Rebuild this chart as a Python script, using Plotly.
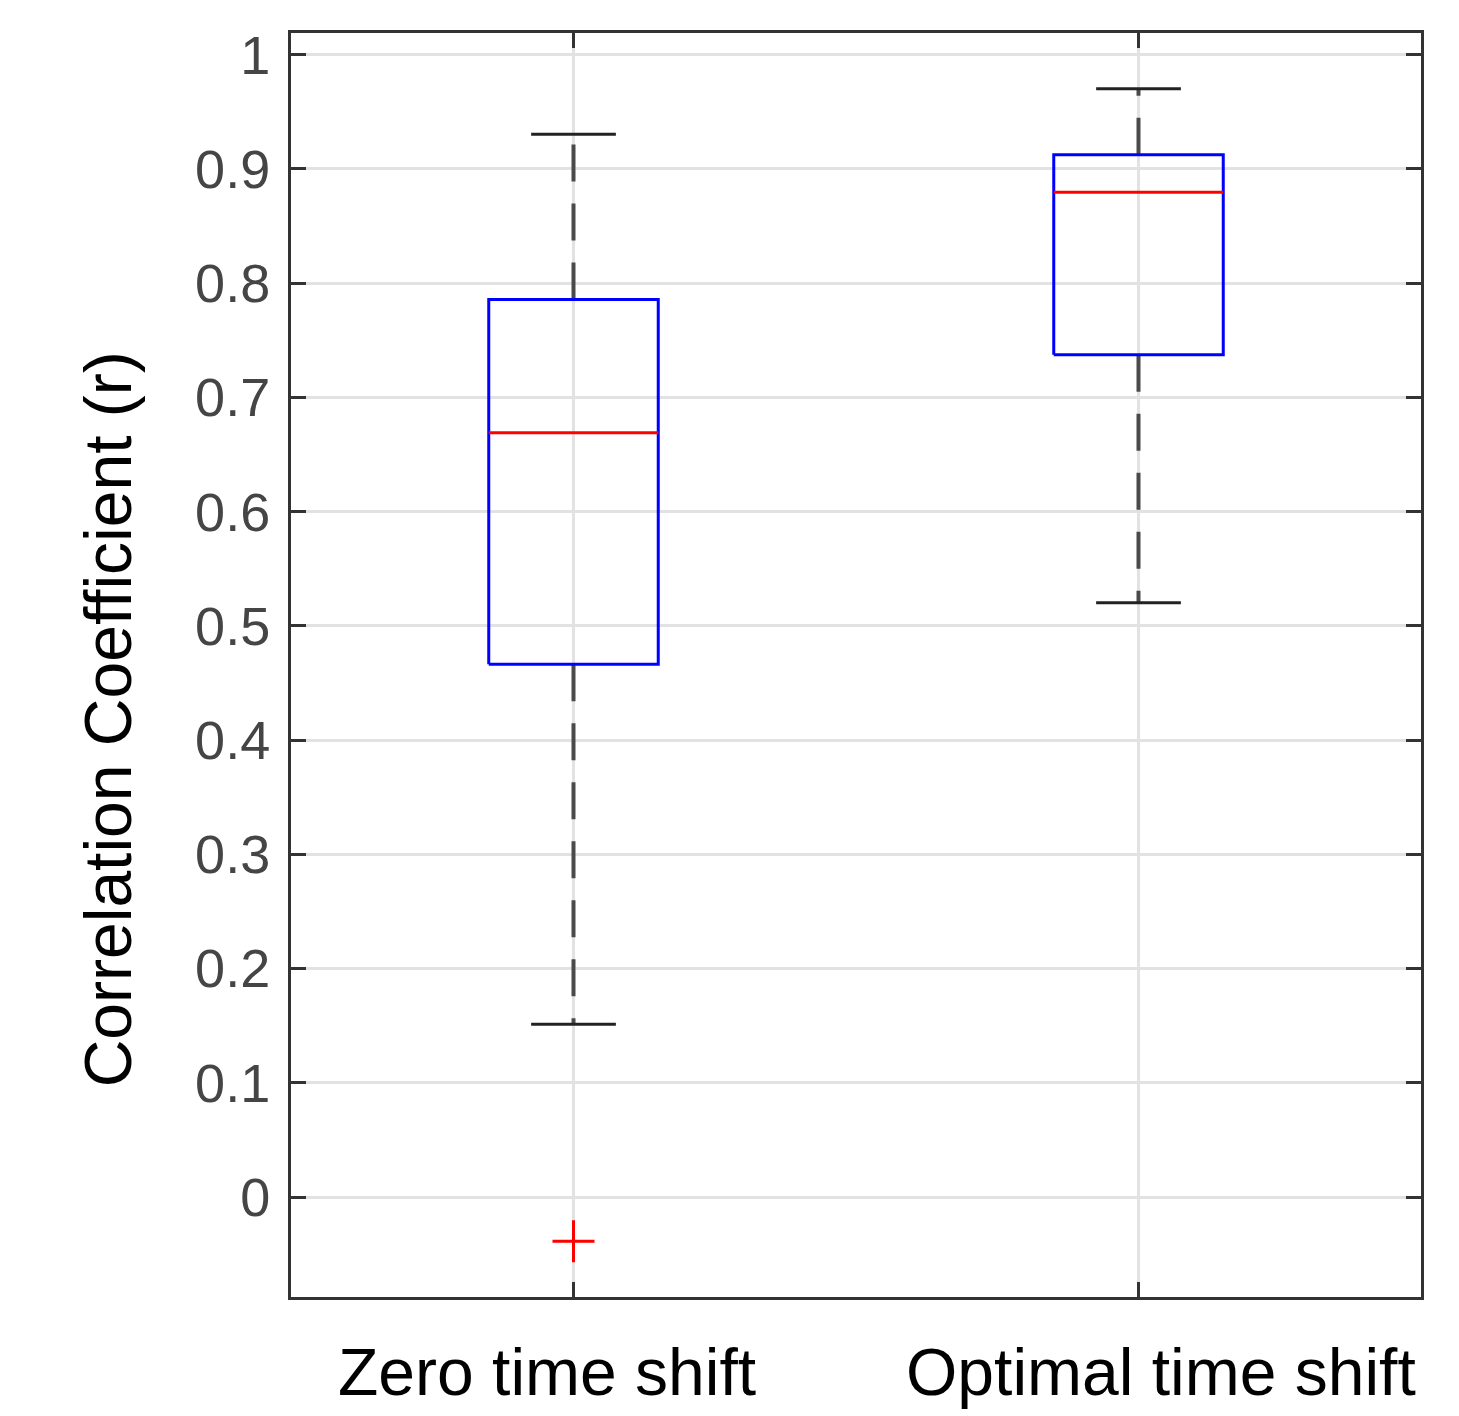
import plotly.graph_objects as go

# ---- data ----
groups = ["Zero time shift", "Optimal time shift"]
positions = [1, 2]
q1 = [0.4663, 0.7374]
median = [0.6691, 0.8797]
q3 = [0.7858, 0.9125]
whisker_low = [0.1512, 0.5203]
whisker_high = [0.9303, 0.9703]
outliers = [[-0.0388], []]
ytick_vals = [0, 0.1, 0.2, 0.3, 0.4, 0.5, 0.6, 0.7, 0.8, 0.9, 1]
ytick_text = ["0", "0.1", "0.2", "0.3", "0.4", "0.5", "0.6", "0.7", "0.8", "0.9", "1"]

BOX_W = 0.3
CAP_W = 0.15

fig = go.Figure()

for i, c in enumerate(positions):
    # whiskers (dashed)
    fig.add_trace(go.Scatter(
        x=[c, c, None, c, c],
        y=[q3[i], whisker_high[i], None, q1[i], whisker_low[i]],
        mode="lines", line=dict(color="#4a4a4a", width=4, dash="37px,22px"),
        hoverinfo="skip", showlegend=False))
    # caps
    fig.add_trace(go.Scatter(
        x=[c - CAP_W / 2, c + CAP_W / 2, None, c - CAP_W / 2, c + CAP_W / 2],
        y=[whisker_high[i], whisker_high[i], None, whisker_low[i], whisker_low[i]],
        mode="lines", line=dict(color="#222222", width=3),
        hoverinfo="skip", showlegend=False))
    # box
    fig.add_trace(go.Scatter(
        x=[c - BOX_W / 2, c + BOX_W / 2, c + BOX_W / 2, c - BOX_W / 2, c - BOX_W / 2],
        y=[q1[i], q1[i], q3[i], q3[i], q1[i]],
        mode="lines", line=dict(color="#0000ff", width=3),
        hoverinfo="skip", showlegend=False))
    # median
    fig.add_trace(go.Scatter(
        x=[c - BOX_W / 2, c + BOX_W / 2],
        y=[median[i], median[i]],
        mode="lines", line=dict(color="#ff0000", width=3),
        hoverinfo="skip", showlegend=False))
    # outliers
    if outliers[i]:
        fig.add_trace(go.Scatter(
            x=[c] * len(outliers[i]), y=outliers[i], mode="markers",
            marker=dict(symbol="cross-thin", size=30, line=dict(color="#ff0000", width=3)),
            hoverinfo="skip", showlegend=False))

FONT = "Liberation Sans, Arial, sans-serif"

fig.update_layout(
    width=1451, height=1408,
    margin=dict(l=283, r=38, t=25, b=119),
    paper_bgcolor="white", plot_bgcolor="white",
    showlegend=False,
    font=dict(family=FONT),
)

fig.update_xaxes(
    range=[0.5, 2.5], tickvals=positions, showticklabels=False,
    showgrid=True, gridcolor="#e2e2e2", gridwidth=3,
    ticks="inside", ticklen=15, tickwidth=3, tickcolor="#333333",
    showline=True, linecolor="#333333", linewidth=3, mirror="ticks",
    zeroline=False,
)
fig.update_yaxes(
    range=[-0.0875, 1.019], tickvals=ytick_vals, ticktext=ytick_text,
    tickfont=dict(family=FONT, size=54, color="#454545"),
    ticklabelstandoff=7,
    showgrid=True, gridcolor="#e2e2e2", gridwidth=3,
    ticks="inside", ticklen=15, tickwidth=3, tickcolor="#333333",
    showline=True, linecolor="#333333", linewidth=3, mirror="ticks",
    zeroline=False,
)

# category labels
shifts = [-27, 22]
for i, c in enumerate(positions):
    fig.add_annotation(
        x=c, xref="x", y=-0.059, yref="paper", xshift=shifts[i],
        text=groups[i], showarrow=False, xanchor="center", yanchor="middle",
        font=dict(family=FONT, size=66, color="#000000"))

# y axis title
fig.add_annotation(
    x=-0.162, xref="paper", y=0.457, yref="paper",
    text="Correlation Coefficient (r)", textangle=-90, showarrow=False,
    xanchor="center", yanchor="middle",
    font=dict(family=FONT, size=66, color="#000000"))

fig.write_html("out.html")
